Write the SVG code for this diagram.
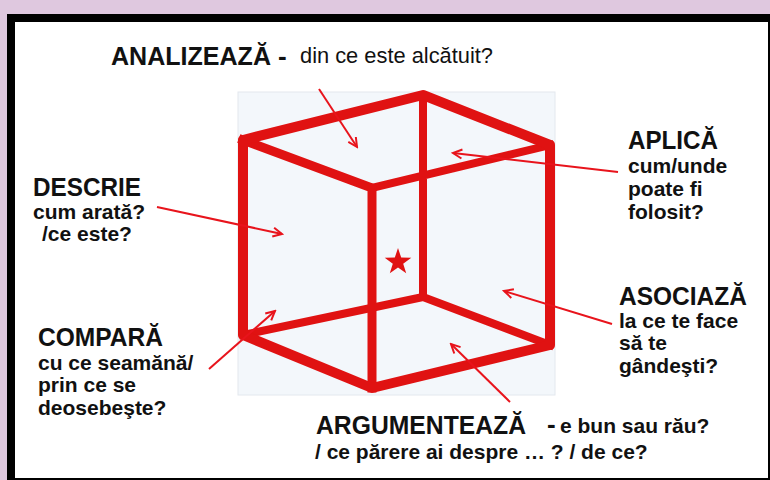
<svg xmlns="http://www.w3.org/2000/svg" width="770" height="480" viewBox="0 0 770 480">
  <defs>
    <style>
      .h{font-family:"Liberation Sans",Arial,sans-serif;font-weight:bold;fill:#111;font-size:26px;}
      .s{font-family:"Liberation Sans",Arial,sans-serif;font-weight:bold;fill:#111;font-size:21px;}
      .edge{stroke:#e01212;fill:none;stroke-linecap:square;stroke-linejoin:round;}
      .arr{stroke:#e8141c;stroke-width:2;fill:none;marker-end:url(#ah);}
    </style>
    <marker id="ah" markerUnits="userSpaceOnUse" markerWidth="14" markerHeight="14" viewBox="-12 -7 14 14" refX="0" refY="0" orient="auto">
      <path d="M-9,-4.5 L0,0 L-9,4.5" fill="none" stroke="#e8141c" stroke-width="2"/>
    </marker>
  </defs>

  <rect x="0" y="0" width="770" height="480" fill="#dfc8df"/>
  <rect x="7" y="14" width="763" height="466" fill="#000"/>
  <rect x="15" y="22" width="753" height="456" fill="#fff"/>

  <g id="cube">
    <rect x="238" y="92" width="317" height="303" fill="#f3f7fb" stroke="#e3e8ee" stroke-width="1"/>
    <path class="edge" stroke-width="8" d="M423,95 L423,297 M243,335 L423,297 L550,345 M372,188 L550,145"/>
    <path class="edge" stroke-width="9" d="M243,140 L372,188 L372,388"/>
    <path class="edge" stroke-width="10" d="M243,140 L423,95 L550,145 L550,345 L372,388 L243,335 Z"/>
    <polygon fill="#e01212" points="398,248 401.2,257.6 411.3,257.7 403.2,263.7 406.2,273.3 398,267.5 389.8,273.3 392.8,263.7 384.7,257.7 394.8,257.6"/>
  </g>

  <g id="connectors">
    <line class="arr" x1="319" y1="89" x2="357" y2="147"/>
    <line class="arr" x1="618" y1="172" x2="453" y2="153"/>
    <line class="arr" x1="157" y1="207" x2="282" y2="234"/>
    <line class="arr" x1="209" y1="369" x2="275" y2="311"/>
    <line class="arr" x1="612" y1="324" x2="504" y2="291"/>
    <line class="arr" x1="510" y1="402" x2="451" y2="344"/>
  </g>

  <g id="analizeaza">
    <text class="h" x="111" y="65" textLength="160" lengthAdjust="spacingAndGlyphs">ANALIZEAZĂ</text>
    <text class="h" x="278" y="65">-</text>
    <text x="300" y="63" font-family="Liberation Sans,Arial,sans-serif" font-size="22" fill="#111" textLength="193" lengthAdjust="spacingAndGlyphs">din ce este alcătuit?</text>
  </g>

  <g id="descrie">
    <text class="h" x="33" y="196" textLength="108" lengthAdjust="spacingAndGlyphs">DESCRIE</text>
    <text class="s" x="33" y="219">cum arată?</text>
    <text class="s" x="42" y="241">/ce este?</text>
  </g>

  <g id="compara">
    <text class="h" x="38" y="346" textLength="125" lengthAdjust="spacingAndGlyphs">COMPARĂ</text>
    <text class="s" x="38" y="370">cu ce seamănă/</text>
    <text class="s" x="38" y="392">prin ce se</text>
    <text class="s" x="38" y="415">deosebeşte?</text>
  </g>

  <g id="aplica">
    <text class="h" x="628" y="149" textLength="90" lengthAdjust="spacingAndGlyphs">APLICĂ</text>
    <text class="s" x="628" y="173">cum/unde</text>
    <text class="s" x="628" y="196">poate fi</text>
    <text class="s" x="628" y="219">folosit?</text>
  </g>

  <g id="asociaza">
    <text class="h" x="619" y="305" textLength="128" lengthAdjust="spacingAndGlyphs">ASOCIAZĂ</text>
    <text class="s" x="619" y="328">la ce te face</text>
    <text class="s" x="619" y="350">să te</text>
    <text class="s" x="619" y="373">gândeşti?</text>
  </g>

  <g id="argumenteaza">
    <text class="h" x="316" y="434" textLength="210" lengthAdjust="spacingAndGlyphs">ARGUMENTEAZĂ</text>
    <text class="h" x="547" y="433">-</text>
    <text class="s" x="560" y="433">e bun sau rău?</text>
    <text class="s" x="315" y="459">/ ce părere ai despre … ? / de ce?</text>
  </g>
</svg>
